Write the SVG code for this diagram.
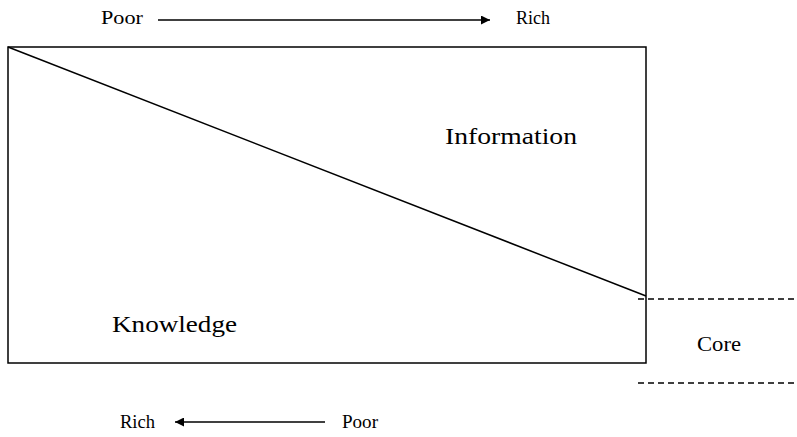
<svg xmlns="http://www.w3.org/2000/svg" width="797" height="437" viewBox="0 0 797 437">
<style>
.ln{stroke:#000;stroke-width:1.5;fill:none}
.d{stroke:#000;stroke-width:1.3;stroke-dasharray:6,4;fill:none}
.t{font-family:'Liberation Serif','DejaVu Serif',serif;fill:#000}
</style>
<defs>
<marker id="ah" viewBox="0 0 10 10" refX="10" refY="5" markerWidth="14" markerHeight="9" markerUnits="userSpaceOnUse" orient="auto">
<path d="M0,0 L10,5 L0,10 z" fill="#000"/>
</marker>
</defs>
<rect width="797" height="437" fill="#fff"/>
<g id="box">
<rect x="8" y="47" width="638" height="316" class="ln"/>
<line x1="8" y1="47" x2="646" y2="296" class="ln"/>
</g>
<g id="connectors">
<line x1="158" y1="20" x2="490" y2="20" class="ln" marker-end="url(#ah)"/>
<line x1="325" y1="422" x2="175" y2="422" class="ln" marker-end="url(#ah)"/>
<line x1="638" y1="299" x2="797" y2="299" class="d"/>
<line x1="638" y1="383" x2="797" y2="383" class="d"/>
</g>
<g id="labels" class="t">
<text class="t" x="101" y="24" font-size="19" textLength="42" lengthAdjust="spacingAndGlyphs">Poor</text>
<text class="t" x="516" y="24" font-size="19" textLength="34" lengthAdjust="spacingAndGlyphs">Rich</text>
<text class="t" x="120" y="428" font-size="19" textLength="35" lengthAdjust="spacingAndGlyphs">Rich</text>
<text class="t" x="342" y="428" font-size="19" textLength="36" lengthAdjust="spacingAndGlyphs">Poor</text>
<text class="t" x="445" y="144" font-size="24" textLength="132" lengthAdjust="spacingAndGlyphs">Information</text>
<text class="t" x="112" y="332" font-size="24" textLength="125" lengthAdjust="spacingAndGlyphs">Knowledge</text>
<text class="t" x="697" y="351" font-size="21" textLength="44" lengthAdjust="spacingAndGlyphs">Core</text>
</g>
</svg>
